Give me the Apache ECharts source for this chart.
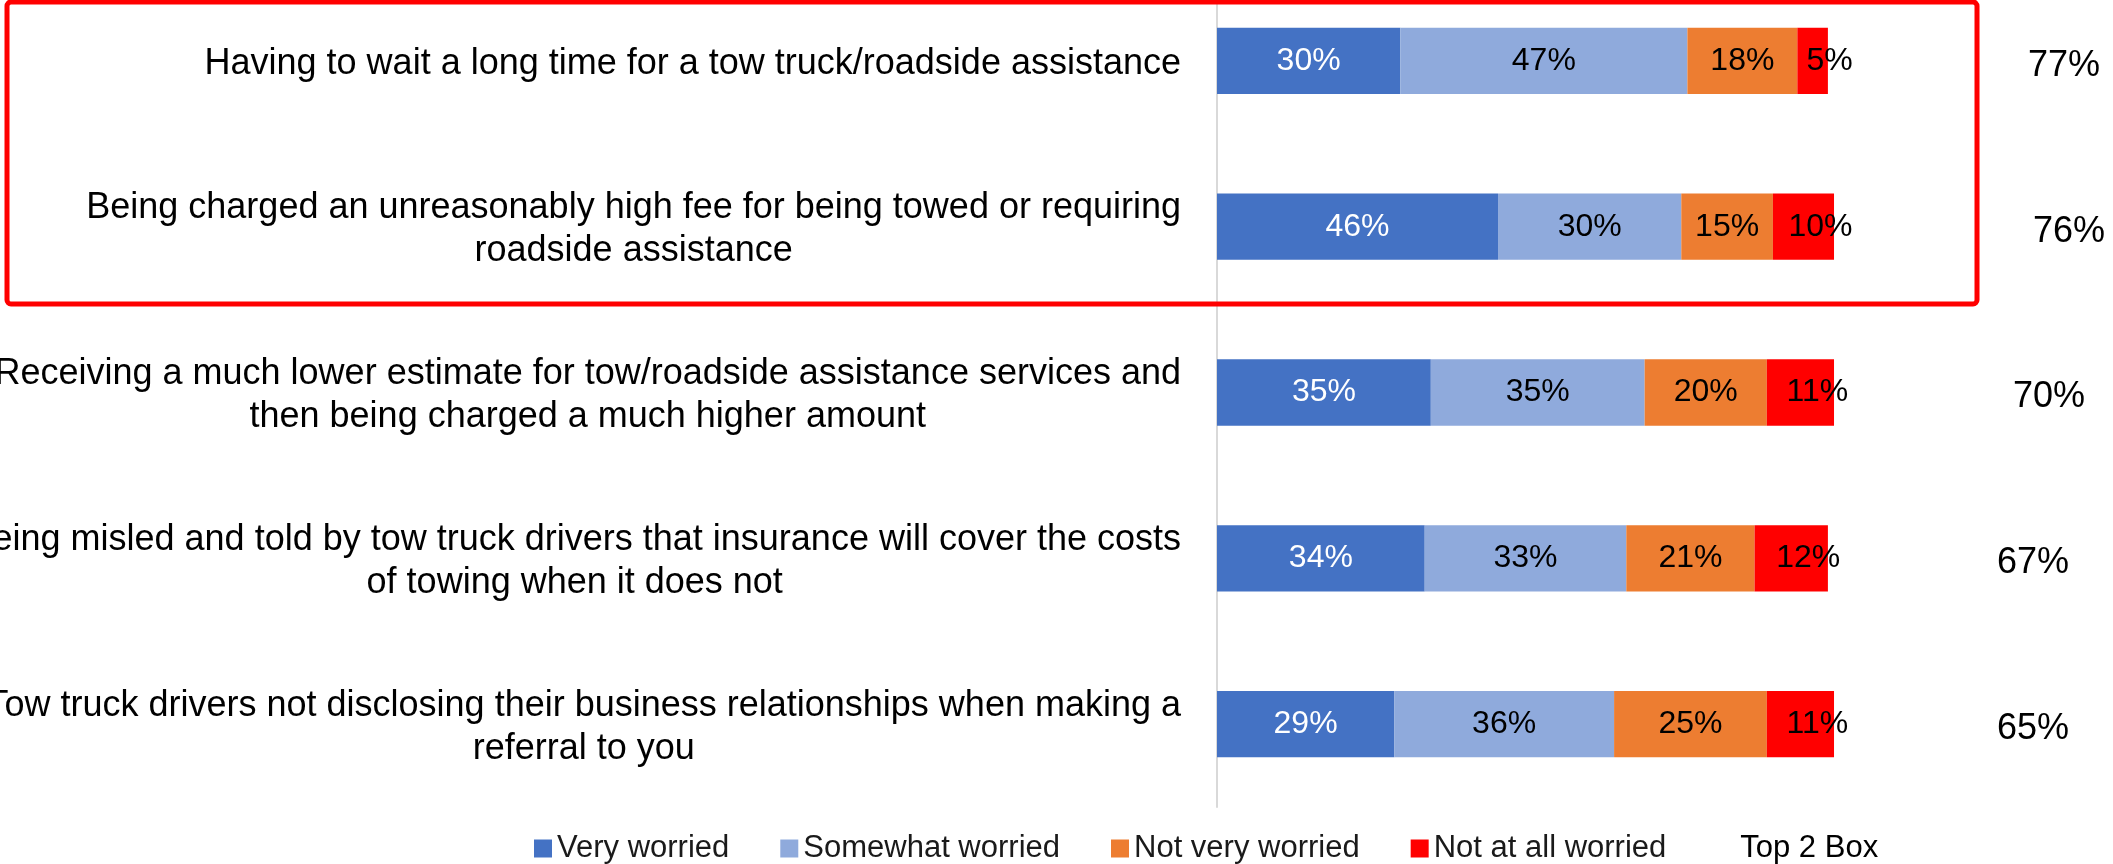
<!DOCTYPE html>
<html>
<head>
<meta charset="utf-8">
<script src="https://cdn.jsdelivr.net/npm/echarts@6/dist/echarts.min.js"></script>
<style>
html,body{margin:0;padding:0;background:#fff;}
#chart{width:2113px;height:864px;}
</style>
</head>
<body>
<div id="chart"></div>
<script>
const categories = [
  "Having to wait a long time for a tow truck/roadside assistance",
  "Being charged an unreasonably high fee for being towed or requiring\nroadside assistance",
  "Receiving a much lower estimate for tow/roadside assistance services and\nthen being charged a much higher amount",
  "Being misled and told by tow truck drivers that insurance will cover the costs\nof towing when it does not",
  "Tow truck drivers not disclosing their business relationships when making a\nreferral to you"
];
const seriesNames = ["Very worried", "Somewhat worried", "Not very worried", "Not at all worried"];
const veryWorried = [30, 46, 35, 34, 29];
const somewhatWorried = [47, 30, 35, 33, 36];
const notVeryWorried = [18, 15, 20, 21, 25];
const notAtAllWorried = [5, 10, 11, 12, 11];
const top2Box = ["77%", "76%", "70%", "67%", "65%"];
const top2Title = "Top 2 Box";

const FONT = "'Liberation Sans', Arial, sans-serif";
const colors = ["#4472C4", "#8FAADC", "#ED7D31", "#FF0000"];
const values = [veryWorried, somewhatWorried, notVeryWorried, notAtAllWorried];
const labelColors = ["#ffffff", "#000000", "#000000", "#000000"];
const labelOffsets = [[0,0],[0,0],[0,0],[17,0]];
// horizontal nudges (px) of the Top 2 Box texts, as seen in the reference
const top2Shift = [62, 72, 32, 0, 0];

const chart = echarts.init(document.getElementById('chart'), null, {renderer:'canvas'});

const barSeries = values.map((d, i) => ({
  name: seriesNames[i],
  type: 'bar',
  stack: 'total',
  data: d,
  barCategoryGap: '60%',
  clip: false,
  itemStyle: {color: colors[i]},
  label: {
    show: true,
    position: 'inside',
    formatter: '{c}%',
    color: labelColors[i],
    fontSize: 32,
    fontFamily: FONT,
    offset: labelOffsets[i]
  },
  emphasis: {disabled: true}
}));

barSeries.push({
  name: top2Title,
  type: 'bar',
  stack: 'total',
  data: [],
  itemStyle: {color: 'transparent'}
});

const top2Rich = {};
top2Shift.forEach((p, i) => {
  top2Rich['t' + i] = {fontSize: 36, fontFamily: FONT, color: '#000000', padding: [10, 0, 0, p]};
});

const option = {
  animation: false,
  backgroundColor: '#ffffff',
  grid: {left: 1217, width: 672, top: -22, bottom: 57, containLabel: false, outerBoundsMode: 'none'},
  xAxis: {
    type: 'value', min: 0, max: 110, show: false,
    splitLine: {show: false}
  },
  yAxis: [
    {
      type: 'category',
      inverse: true,
      data: categories,
      axisLine: {show: true, lineStyle: {color: '#d9d9d9', width: 2}},
      axisTick: {show: false},
      axisLabel: {
        interval: 0,
        margin: 36,
        align: 'right',
        padding: [6, 0, 0, 0],
        formatter: v => v.split('\n').map(s => '{c|' + s + '}').join('\n'),
        rich: {
          c: {fontSize: 36, fontFamily: FONT, color: '#000000', lineHeight: 43, align: 'center'}
        }
      }
    },
    {
      type: 'category',
      inverse: true,
      position: 'right',
      data: top2Box,
      axisLine: {show: false},
      axisTick: {show: false},
      axisLabel: {
        interval: 0,
        margin: 144,
        align: 'center',
        fontSize: 36,
        fontFamily: FONT,
        color: '#000000',
        formatter: (v, i) => '{t' + i + '|' + v + '}',
        rich: top2Rich
      }
    }
  ],
  legend: {
    left: 529,
    top: 828,
    itemWidth: 18,
    itemHeight: 18,
    itemGap: 51,
    selectedMode: false,
    icon: 'rect',
    textStyle: {fontSize: 31, fontFamily: FONT, color: '#1a1a1a'},
    data: seriesNames.map(n => ({name: n})).concat([{name: top2Title, icon: 'none', textStyle: {color: '#000000', fontSize: 31}}])
  },
  graphic: [{
    type: 'rect',
    shape: {x: 7, y: 2, width: 1970, height: 302, r: 4},
    style: {fill: 'none', stroke: '#FF0000', lineWidth: 5},
    z: 100
  }],
  series: barSeries
};
chart.setOption(option);
</script>
</body>
</html>
